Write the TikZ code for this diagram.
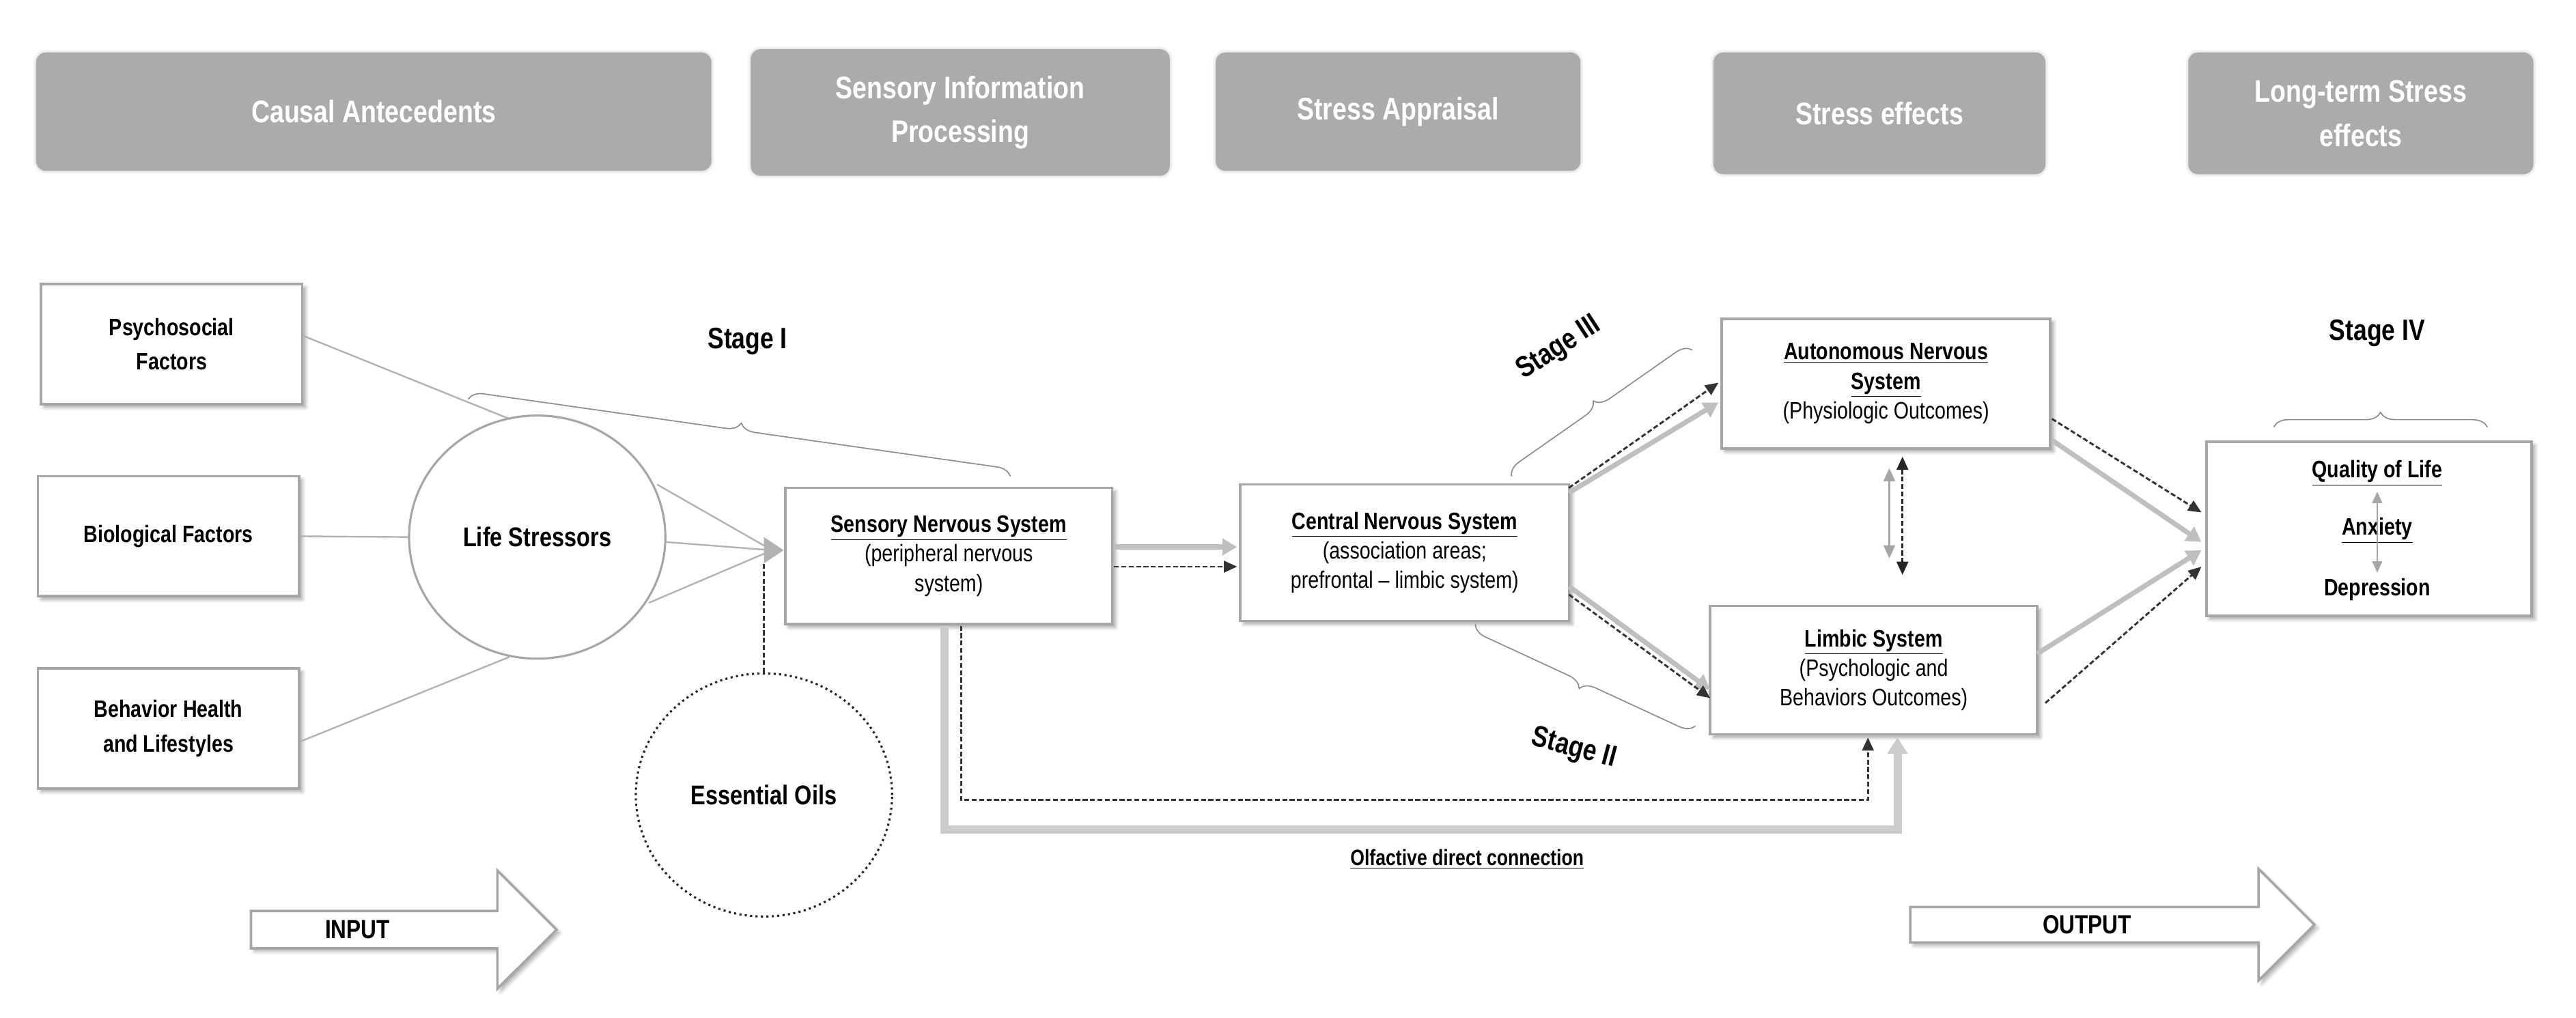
\documentclass[tikz,border=0pt]{standalone}
\usepackage{fontspec}
\setmainfont{Liberation Sans}[FakeStretch=0.82]
\usetikzlibrary{shadows.blur,arrows.meta,shapes.arrows,shapes.geometric,decorations.pathreplacing}
\begin{document}
\begin{tikzpicture}[x=1pt,y=-1pt,
 hdr/.style={draw=none,fill=black!33,rounded corners=6pt,text=white,font=\fontsize{19}{27}\selectfont\bfseries,align=center,blur shadow={shadow blur steps=5,shadow xshift=0pt,shadow yshift=0pt,shadow opacity=25}},
 box/.style={draw=black!35,line width=1.5pt,fill=white,align=center,font=\fontsize{14.5}{21}\selectfont,blur shadow={shadow blur steps=6,shadow xshift=2pt,shadow yshift=-2pt,shadow opacity=35}},
 gl/.style={draw=black!30,line width=1pt},
 ga/.style={draw=black!25,line width=3pt,-{Triangle[length=9pt,width=10pt]}},
 da/.style={draw=black!80,line width=1.2pt,dashed,dash pattern=on 3pt off 1.5pt,-{Triangle[length=8pt,width=7pt]}},
 stg/.style={font=\fontsize{18}{20}\selectfont\bfseries},
 br/.style={draw=black!45,line width=0.7pt,decorate,decoration={brace,amplitude=9pt}}]
\useasboundingbox (0,0) rectangle (1568,619.5);
% headers
\node[hdr,minimum width=411,minimum height=72] (h1) at (227.5,68) {Causal Antecedents};
\node[hdr,minimum width=255,minimum height=77] (h2) at (584.5,68.5) {Sensory Information\\Processing};
\node[hdr,minimum width=222,minimum height=72] (h3) at (851,68) {Stress Appraisal};
\node[hdr,minimum width=202,minimum height=74] (h4) at (1144,69) {Stress effects};
\node[hdr,minimum width=210,minimum height=74] (h5) at (1437,69) {Long-term Stress\\effects};
\coordinate (tipS) at (470,335);
\node[box,minimum width=159,minimum height=73,font=\fontsize{14.5}{21}\selectfont\bfseries] (ps) at (104.5,209.5) {Psychosocial\\Factors};
\node[box,minimum width=159,minimum height=73,font=\fontsize{14.5}{21}\selectfont\bfseries] (bio) at (102.5,326.5) {Biological Factors};
\node[box,minimum width=159,minimum height=73,font=\fontsize{14.5}{21}\selectfont\bfseries] (beh) at (102.5,443.5) {Behavior Health\\and Lifestyles};
\draw[gl] (ps.east) ++(0,-5) -- (310,255);
\draw[gl] (bio.east) -- (250,327);
\draw[gl] (beh.east) ++(0,8) -- (310,400);
\node[draw=black!35,line width=1.3pt,fill=white,ellipse,minimum width=156,minimum height=148,font=\fontsize{16.5}{19}\selectfont\bfseries] (ls) at (327,327) {Life Stressors};
\draw[gl] (400,295) -- (tipS);
\draw[gl] (405,330) -- (tipS);
\draw[gl] (395,367) -- (tipS);
\fill[black!30] (tipS) ++(7,0) -- ++(-12,-8) -- ++(0,16) -- cycle;
\node[draw=black!85,line width=1.3pt,dotted,ellipse,minimum width=156,minimum height=148,font=\fontsize{16.5}{19}\selectfont\bfseries] (eo) at (465,484) {Essential Oils};
\draw[draw=black!80,line width=1.2pt,dashed,dash pattern=on 3pt off 1.5pt] (eo.north) -- (465,342);
\node[box,minimum width=199,minimum height=83] (sns) at (577.5,338.5) {\textbf{\underline{Sensory Nervous System}}\\[-3pt](peripheral nervous\\[-3pt]system)};
\node[box,minimum width=200,minimum height=83] (cns) at (855,336.5) {\textbf{\underline{Central Nervous System}}\\[-3pt](association areas;\\[-3pt]prefrontal -- limbic system)};
\node[box,minimum width=200,minimum height=79] (ans) at (1148,233.5) {\textbf{\underline{Autonomous Nervous}}\\[-3pt]\textbf{\underline{System}}\\[-3pt](Physiologic Outcomes)};
\node[box,minimum width=199,minimum height=78] (lim) at (1140.5,408) {\textbf{\underline{Limbic System}}\\[-3pt](Psychologic and\\[-3pt]Behaviors Outcomes)};
\node[box,minimum width=198,minimum height=106] (qol) at (1442,322) {};
\node[font=\fontsize{14.5}{16}\selectfont\bfseries] (q1) at (1447,288) {\underline{Quality of Life}};
\node[font=\fontsize{14.5}{16}\selectfont\bfseries] (q2) at (1447,323) {\underline{Anxiety}};
\node[font=\fontsize{14.5}{16}\selectfont\bfseries] (q3) at (1447,359) {Depression};
\draw[black!35,line width=1pt,{Triangle[length=7pt,width=6pt]}-{Triangle[length=7pt,width=6pt]}] (q1.south) -- (q3.north);
% main arrows
\draw[ga] (678,333) -- (753,333);
\draw[da] (678,345) -- (753,345);
\draw[ga] (955,300) -- (1046,245);
\draw[da] (955,297) -- (1046,233);
\draw[ga] (955,357) -- (1041,420);
\draw[da] (955,362) -- (1041,425);
\draw[ga] (1249,268) -- (1340,330);
\draw[da] (1249,255) -- (1340,312);
\draw[ga] (1240,398) -- (1340,335);
\draw[da] (1245,428) -- (1340,345);
\draw[black!35,line width=1pt,{Triangle[length=8pt,width=7pt]}-{Triangle[length=8pt,width=7pt]}] (1150,285) -- (1150,340);
\draw[black!85,line width=1.2pt,dashed,dash pattern=on 3pt off 1.5pt,{Triangle[length=8pt,width=7pt]}-{Triangle[length=8pt,width=7pt]}] (1158,278) -- (1158,350);
% olfactive
\draw[black!20,line width=5pt,-{Triangle[length=10pt,width=12pt]}] (575,381) -- (575,505) -- (1155,505) -- (1155,449);
\draw[da] (585,381) -- (585,487) -- (1137,487) -- (1137,449);
\node[font=\fontsize{13.5}{14}\selectfont\bfseries] (olf) at (893,523) {\underline{Olfactive direct connection}};
% stages
\node[stg] (s1) at (455,208) {Stage I};
\draw[br] (285,243) -- (615,290);
\node[stg,rotate=33] (s3) at (949,212) {Stage III};
\draw[br] (920,290) -- (1030,213);
\node[stg,rotate=-15] (s2) at (958,456) {Stage II};
\draw[br] (1032,442) -- (898,380);
\node[stg] (s4) at (1447,203) {Stage IV};
\draw[br] (1384,260) -- (1514,260);
% IO arrows
\node[single arrow,draw=black!35,line width=1.5pt,fill=white,minimum height=186,minimum width=72,single arrow head extend=18,inner sep=2pt,anchor=west,font=\fontsize{16}{17}\selectfont\bfseries,blur shadow={shadow blur steps=5,shadow xshift=2pt,shadow yshift=-2pt,shadow opacity=30}] (inp) at (152,566) {\hspace*{-45pt}INPUT};
\node[single arrow,draw=black!35,line width=1.5pt,fill=white,minimum height=246,minimum width=68,single arrow head extend=18,inner sep=2pt,anchor=west,font=\fontsize{16}{17}\selectfont\bfseries,blur shadow={shadow blur steps=5,shadow xshift=2pt,shadow yshift=-2pt,shadow opacity=30}] (outp) at (1162,563) {\hspace*{-20pt}OUTPUT};
\end{tikzpicture}
\end{document}
